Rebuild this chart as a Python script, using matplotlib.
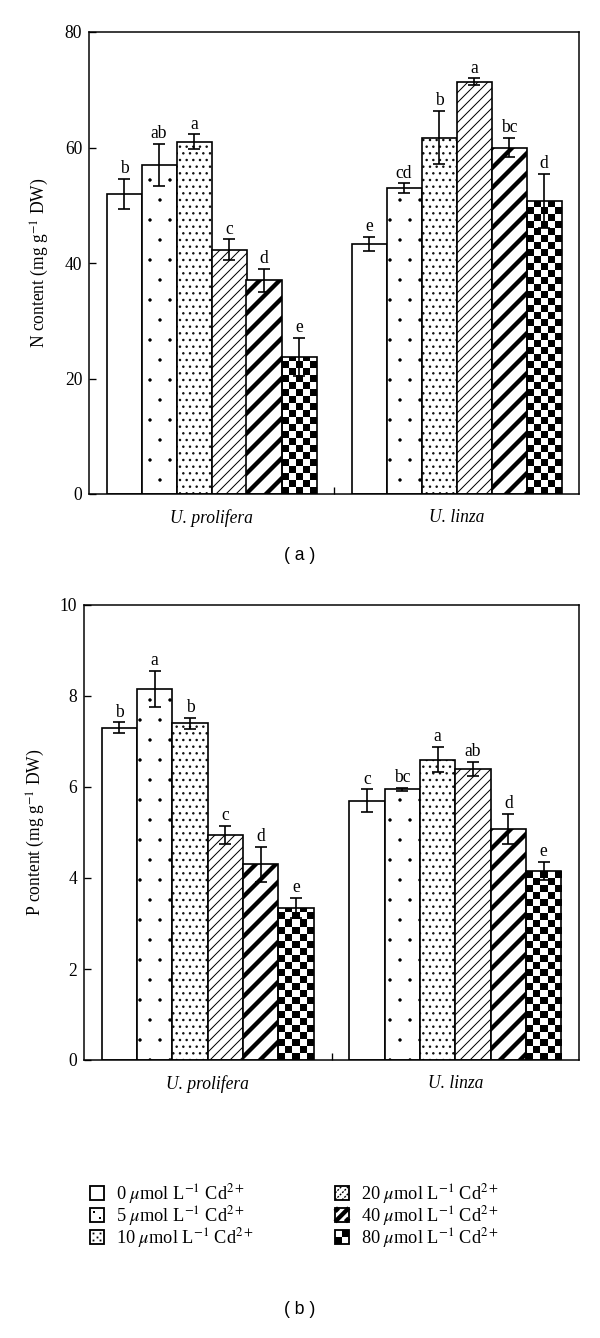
import numpy as np
import matplotlib
matplotlib.use("Agg")
import matplotlib.pyplot as plt
import matplotlib.hatch as mhatch
from matplotlib.patches import Rectangle
from matplotlib.lines import Line2D
from matplotlib.legend_handler import HandlerBase

plt.rcParams["font.family"] = ["Liberation Serif", "DejaVu Serif"]
plt.rcParams["mathtext.fontset"] = "stix"

# smaller dots for the '.' hatches
mhatch.SmallFilledCircles.size = 0.07


# ==========================================================
# Data
# ==========================================================

species = ["U. prolifera", "U. linza"]
doses = ["0", "5", "10", "20", "40", "80"]

n_prolifera = [52.0, 57.0, 61.0, 42.3, 37.0, 23.7]
n_prolifera_err = [2.6, 3.6, 1.3, 1.8, 2.0, 3.3]
n_prolifera_sig = ["b", "ab", "a", "c", "d", "e"]

n_linza = [43.3, 53.0, 61.7, 71.4, 60.0, 50.7]
n_linza_err = [1.2, 0.8, 4.6, 0.6, 1.7, 4.7]
n_linza_sig = ["e", "cd", "b", "a", "bc", "d"]

p_prolifera = [7.3, 8.15, 7.4, 4.95, 4.3, 3.35]
p_prolifera_err = [0.12, 0.4, 0.12, 0.2, 0.38, 0.22]
p_prolifera_sig = ["b", "a", "b", "c", "d", "e"]

p_linza = [5.7, 5.95, 6.6, 6.4, 5.08, 4.15]
p_linza_err = [0.25, 0.03, 0.28, 0.15, 0.33, 0.2]
p_linza_sig = ["c", "bc", "a", "ab", "d", "e"]

hatches = ["", ".", "...", "////", "//", None]
hatch_lws = [0.6, 0.3, 0.9, 0.6, 2.6, 0.6]
swatch_styles = ["empty", "sparse", "dense", "fine", "thick", "checker"]


# ==========================================================
# Helpers
# ==========================================================

bar_w = 1.0 / 7
group_x = np.array([0.5, 1.5])


def checker(ax, bar, ymax):
    x0 = bar.get_x()
    w = bar.get_width()
    h = bar.get_height()
    cell = 7.0 / ax.bbox.height * ymax
    nrows = int(np.ceil(h / cell))
    board = np.indices((nrows, 5)).sum(0) % 2
    im = ax.imshow(
        board,
        cmap="gray",
        origin="lower",
        extent=(x0, x0 + w, 0, nrows * cell),
        aspect="auto",
        interpolation="nearest",
        zorder=1.5,
    )
    im.set_clip_path(bar)


def panel(ax, means, errs, sigs, ymax, yticks, ylabel):
    for i in range(6):
        x = group_x + (i - 2.5) * bar_w
        vals = [means[0][i], means[1][i]]
        ee = [errs[0][i], errs[1][i]]
        with plt.rc_context({"hatch.linewidth": hatch_lws[i]}):
            bars = ax.bar(
                x,
                vals,
                width=bar_w,
                facecolor="none" if hatches[i] is None else "white",
                edgecolor="black",
                linewidth=1.0,
                hatch=hatches[i] if hatches[i] else None,
                zorder=2,
            )
        for b in bars:
            if hasattr(b, "set_hatch_linewidth"):
                b.set_hatch_linewidth(hatch_lws[i])
            if hatches[i] is None:
                checker(ax, b, ymax)
        ax.errorbar(
            x,
            vals,
            yerr=ee,
            fmt="none",
            ecolor="black",
            elinewidth=1.0,
            capsize=3.8,
            capthick=1.0,
            zorder=3,
        )
        for k in range(2):
            ax.annotate(
                sigs[k][i],
                (x[k], vals[k] + ee[k]),
                xytext=(0, 1.0),
                textcoords="offset points",
                ha="center",
                va="bottom",
                fontsize=10.5,
            )

    ax.set_xlim(0, 2)
    ax.set_ylim(0, ymax)
    ax.set_yticks(yticks)
    ax.tick_params(axis="y", direction="in", length=4, width=0.8,
                   labelsize=10.5, pad=4)
    ax.set_xticks([1])
    ax.set_xticklabels([""])
    ax.tick_params(axis="x", which="major", direction="in",
                   length=4, width=0.8)
    ax.set_xticks(group_x, species, minor=True)
    ax.tick_params(axis="x", which="minor", length=0, pad=9,
                   labelsize=10.5)
    for lab in ax.get_xticklabels(minor=True):
        lab.set_fontstyle("italic")
    for s in ax.spines.values():
        s.set_linewidth(0.9)
    ax.set_ylabel(ylabel, fontsize=10.5, labelpad=8)


# ==========================================================
# Figure
# ==========================================================

fig = plt.figure(figsize=(5, 11.15), dpi=120)

ax1 = fig.add_axes([89 / 600, 1 - 494 / 1338, 490 / 600, 462 / 1338])
ax2 = fig.add_axes([84 / 600, 1 - 1060 / 1338, 495 / 600, 455 / 1338])

panel(
    ax1,
    [n_prolifera, n_linza],
    [n_prolifera_err, n_linza_err],
    [n_prolifera_sig, n_linza_sig],
    80,
    [0, 20, 40, 60, 80],
    r"N content (mg g$^{-1}$ DW)",
)

panel(
    ax2,
    [p_prolifera, p_linza],
    [p_prolifera_err, p_linza_err],
    [p_prolifera_sig, p_linza_sig],
    10,
    [0, 2, 4, 6, 8, 10],
    r"P content (mg g$^{-1}$ DW)",
)

fig.text(0.5, 1 - 556 / 1338, "( a )", ha="center", va="center",
         family="Liberation Sans", fontsize=10.5)
fig.text(0.5, 1 - 1310 / 1338, "( b )", ha="center", va="center",
         family="Liberation Sans", fontsize=10.5)


# ==========================================================
# Legend
# ==========================================================

def diag(x0, y0, w, h, c):
    # segment of y = x + c inside the unit square, scaled to the swatch
    xa, ya = max(0, -c), max(0, c)
    xb, yb = min(1, 1 - c), min(1, 1 + c)
    return [x0 + xa * w, x0 + xb * w], [y0 + ya * h, y0 + yb * h]


class SwatchHandler(HandlerBase):
    def create_artists(self, legend, orig_handle, xdescent, ydescent,
                       width, height, fontsize, trans):
        style = orig_handle.get_label()
        x0, y0 = -xdescent, -ydescent
        w = h = min(width, height)
        arts = []

        def dot(fx, fy, size):
            arts.append(Line2D([x0 + fx * w], [y0 + fy * h], marker="s",
                               markersize=size, markeredgewidth=0,
                               color="black", linestyle="none",
                               transform=trans))

        if style == "checker":
            for i in range(2):
                for j in range(2):
                    fc = "black" if (i + j) % 2 == 0 else "white"
                    arts.append(Rectangle((x0 + i * w / 2, y0 + j * h / 2),
                                          w / 2, h / 2, facecolor=fc,
                                          edgecolor="none", transform=trans))
        elif style == "sparse":
            for fx, fy in [(0.3, 0.7), (0.7, 0.3)]:
                dot(fx, fy, 1.3)
        elif style == "dense":
            for fx in [0.25, 0.5, 0.75]:
                for fy in [0.25, 0.5, 0.75]:
                    if (fx + fy) in (0.5, 1.0, 1.5):
                        dot(fx, fy, 1.1)
        elif style == "fine":
            for c in [-0.5, 0.0, 0.5]:
                xs, ys = diag(x0, y0, w, h, c)
                arts.append(Line2D(xs, ys, color="black", lw=0.8,
                                   linestyle=(0, (1.5, 1)), transform=trans))
        elif style == "thick":
            for c in [-0.75, 0.0, 0.75]:
                xs, ys = diag(x0, y0, w, h, c)
                arts.append(Line2D(xs, ys, color="black", lw=2.6,
                                   solid_capstyle="butt", transform=trans))
        arts.append(Rectangle((x0, y0), w, h, facecolor="none",
                              edgecolor="black", lw=1.1, transform=trans))
        return arts


handles = [Line2D([], [], label=s) for s in swatch_styles]
labels = [d + r" $\mu$mol L$^{-1}$ Cd$^{2+}$" for d in doses]

fig.legend(
    handles,
    labels,
    loc="upper left",
    bbox_to_anchor=(90 / 600, 1 - 1182 / 1338),
    ncol=2,
    frameon=False,
    fontsize=11,
    handlelength=0.78,
    handleheight=0.78,
    handletextpad=0.65,
    columnspacing=4.4,
    labelspacing=-0.12,
    borderpad=0,
    borderaxespad=0,
    handler_map={Line2D: SwatchHandler()},
)

fig.savefig("out.png", dpi=120)
